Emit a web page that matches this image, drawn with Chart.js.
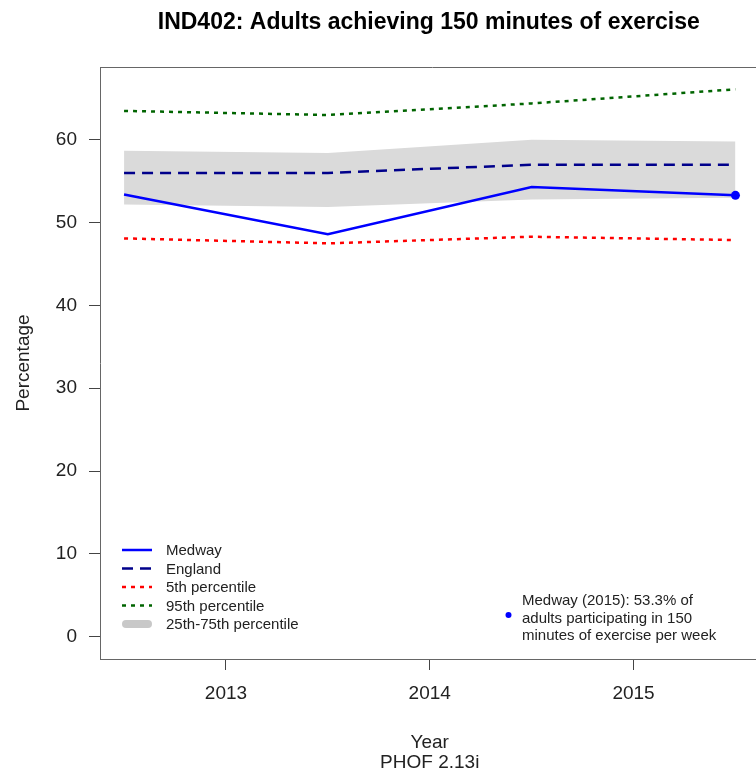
<!DOCTYPE html>
<html><head><meta charset="utf-8">
<script src="https://cdn.jsdelivr.net/npm/chart.js@4/dist/chart.umd.min.js"></script>
<style>html,body{margin:0;padding:0;background:#fff;overflow:hidden;width:756px}canvas{display:block}</style>
</head><body>
<canvas id="c" width="764" height="771"></canvas>
<script>
// ---- data ----
const years = [2012.5, 2013.5, 2014.5, 2015.5];
const xTickValues = [2013, 2014, 2015];
const yTickValues = [0, 10, 20, 30, 40, 50, 60];
const medway = [53.4, 48.6, 54.3, 53.3];
const england = [56.0, 56.0, 57.0, 57.0];
const p5 = [48.1, 47.5, 48.3, 47.9];
const p95 = [63.5, 63.0, 64.4, 66.1];
const p25 = [52.2, 51.9, 52.8, 53.0];
const p75 = [58.7, 58.4, 60.0, 59.8];
const titleText = 'IND402: Adults achieving 150 minutes of exercise';
const xTitle = 'Year';
const caption = 'PHOF 2.13i';
const yTitle = 'Percentage';
const legendLabels = ['Medway', 'England', '5th percentile', '95th percentile', '25th-75th percentile'];
const noteLines = ['Medway (2015): 53.3% of', 'adults participating in 150', 'minutes of exercise per week'];

const FONT = '"Liberation Sans", Arial, sans-serif';
const pts = arr => arr.map((v, i) => ({x: years[i], y: v}));

const chromePlugin = {
  id: 'chrome',
  afterDraw(chart) {
    const ctx = chart.ctx, a = chart.chartArea;
    ctx.save();
    // top border of box
    ctx.strokeStyle = '#666'; ctx.lineWidth = 1;
    ctx.beginPath(); ctx.moveTo(a.left, a.top + 0.5); ctx.lineTo(a.right + 10, a.top + 0.5); ctx.stroke();
    // title
    const cx = (a.left + a.right) / 2;
    ctx.fillStyle = '#000';
    ctx.textAlign = 'center'; ctx.textBaseline = 'alphabetic';
    ctx.font = 'bold 23px ' + FONT;
    ctx.fillText(titleText, cx - 1, 29);
    ctx.font = '19px ' + FONT;
    ctx.fillStyle = '#222';
    ctx.fillText(xTitle, cx, 748);
    ctx.fillText(caption, cx, 768);
    ctx.save();
    ctx.translate(29, (a.top + a.bottom) / 2);
    ctx.rotate(-Math.PI / 2);
    ctx.fillText(yTitle, 0, 0);
    ctx.restore();
    // legend
    const ds = chart.data.datasets;
    ctx.textAlign = 'left'; ctx.font = '15px ' + FONT; ctx.fillStyle = '#222';
    const lx0 = 122, lx1 = 152, tx = 166;
    const rowsY = [551, 569.5, 588, 606.5, 625];
    legendLabels.forEach((lab, i) => {
      const y = rowsY[i];
      ctx.save();
      if (i < 4) {
        const d = ds[i];
        ctx.strokeStyle = d.borderColor; ctx.lineWidth = d.borderWidth;
        ctx.setLineDash(d.borderDash || []);
        ctx.beginPath(); ctx.moveTo(lx0, y - 1); ctx.lineTo(lx1, y - 1); ctx.stroke();
      } else {
        ctx.strokeStyle = '#c8c8c8'; ctx.lineWidth = 8; ctx.lineCap = 'round';
        ctx.beginPath(); ctx.moveTo(lx0 + 4, y - 1); ctx.lineTo(lx1 - 4, y - 1); ctx.stroke();
      }
      ctx.restore();
      ctx.textBaseline = 'middle';
      ctx.fillText(lab, tx, y);
    });
    // note
    ctx.fillStyle = '#0000ff';
    ctx.beginPath(); ctx.arc(508.5, 615, 3, 0, Math.PI * 2); ctx.fill();
    ctx.fillStyle = '#222';
    noteLines.forEach((l, i) => ctx.fillText(l, 522, 601 + i * 17.6));
    ctx.restore();
  }
};

new Chart(document.getElementById('c'), {
  type: 'line',
  data: {
    datasets: [
      {label: 'Medway', data: pts(medway), borderColor: '#0000ff', borderWidth: 2.5,
       pointRadius: [0, 0, 0, 4.5], pointBackgroundColor: '#0000ff', pointBorderWidth: 0, fill: false},
      {label: 'England', data: pts(england), borderColor: '#00008b', borderWidth: 2.5,
       borderDash: [11, 7], pointRadius: 0, fill: false},
      {label: '5th percentile', data: pts(p5), borderColor: '#ff0000', borderWidth: 2.5,
       borderDash: [4, 5], pointRadius: 0, fill: false},
      {label: '95th percentile', data: pts(p95), borderColor: '#006400', borderWidth: 2.5,
       borderDash: [4, 5], pointRadius: 0, fill: false},
      {label: '25th percentile', data: pts(p25), borderWidth: 0, borderColor: 'rgba(0,0,0,0)', pointRadius: 0, fill: false},
      {label: '75th percentile', data: pts(p75), borderWidth: 0, borderColor: 'rgba(0,0,0,0)', pointRadius: 0,
       fill: '-1', backgroundColor: '#dadada'}
    ]
  },
  options: {
    responsive: false, animation: false,
    layout: {padding: {top: 67, left: 0, right: 0, bottom: 0}},
    plugins: {legend: {display: false}, tooltip: {enabled: false}, title: {display: false}},
    scales: {
      x: {
        type: 'linear', min: 2012.382, max: 2015.618,
        afterBuildTicks: s => { s.ticks = xTickValues.map(v => ({value: v})); },
        afterFit: s => { s.height = 112; },
        grid: {drawOnChartArea: false, drawTicks: true, tickLength: 11, color: '#444', lineWidth: 1},
        border: {display: true, color: '#666', width: 1},
        ticks: {color: '#222', font: {family: FONT, size: 19}, padding: 12, maxRotation: 0,
                callback: v => String(v)}
      },
      y: {
        type: 'linear', min: -2.7, max: 68.8,
        afterBuildTicks: s => { s.ticks = yTickValues.map(v => ({value: v})); },
        afterFit: s => { s.width = 100; },
        grid: {drawOnChartArea: false, drawTicks: true, tickLength: 11, color: '#444', lineWidth: 1},
        border: {display: true, color: '#666', width: 1},
        ticks: {color: '#222', font: {family: FONT, size: 19}, padding: 12, callback: v => String(v)}
      }
    }
  },
  plugins: [chromePlugin]
});
</script>
</body></html>
